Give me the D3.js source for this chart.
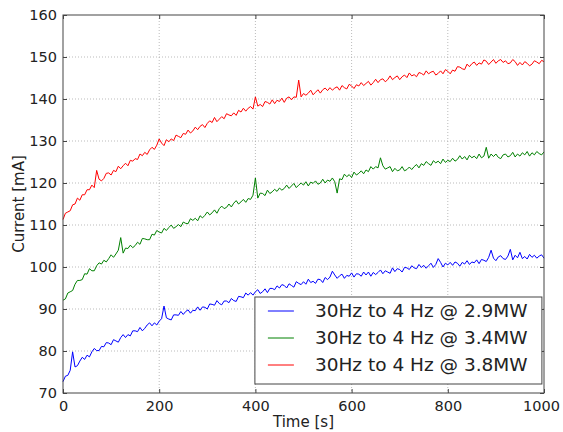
<!DOCTYPE html>
<html>
<head>
<meta charset="utf-8">
<script src="https://cdn.jsdelivr.net/npm/d3@7"></script>
<style>
  body { margin: 0; background: #fff; }
  text { font-family: "DejaVu Sans", sans-serif; fill: #222; }
</style>
</head>
<body>
<div id="chart"></div>
<script>
// time axis, one sample every 5 s
const times = d3.range(0, 1001, 5);

const series29 = [72.7, 74.0, 74.2, 75.4, 79.8, 76.2, 76.5, 77.6, 78.5, 78.0,
  79.0, 78.6, 79.8, 80.6, 80.1, 80.1, 81.1, 81.0, 82.0, 81.9,
  81.5, 82.7, 82.4, 82.1, 83.2, 83.9, 83.2, 83.9, 83.6, 84.8,
  84.8, 84.6, 85.6, 84.8, 85.4, 86.2, 86.7, 86.0, 86.7, 86.2,
  87.1, 87.7, 90.7, 87.9, 87.6, 87.4, 88.6, 88.6, 88.5, 89.4,
  88.7, 89.4, 89.8, 89.0, 89.7, 89.6, 90.5, 89.7, 90.5, 90.4,
  90.0, 91.2, 91.1, 90.9, 92.0, 91.3, 91.0, 91.9, 91.9, 91.5,
  92.5, 92.0, 91.8, 93.0, 92.9, 92.7, 93.8, 93.3, 93.9, 93.3,
  94.1, 94.6, 93.7, 94.1, 94.8, 93.9, 94.9, 94.9, 94.6, 95.5,
  95.0, 95.8, 95.6, 95.0, 96.0, 95.6, 95.2, 96.5, 96.1, 95.8,
  96.5, 95.9, 97.1, 96.3, 96.6, 96.1, 97.1, 97.0, 96.3, 97.5,
  97.0, 97.6, 99.0, 98.1, 97.3, 97.9, 98.3, 97.3, 98.0, 97.8,
  98.6, 97.6, 98.4, 98.3, 97.8, 98.8, 98.1, 98.8, 97.8, 98.7,
  98.2, 98.7, 99.3, 98.4, 99.1, 98.8, 98.5, 99.8, 98.9, 99.6,
  99.4, 98.8, 99.9, 99.8, 99.4, 100.3, 99.8, 99.6, 100.6, 99.9,
  100.4, 99.7, 100.3, 100.9, 99.9, 100.6, 102.0, 101.1, 100.0, 100.9,
  100.5, 101.1, 100.4, 101.2, 100.9, 100.2, 101.1, 100.7, 101.5, 100.6,
  101.2, 101.0, 101.7, 100.8, 101.8, 101.6, 101.3, 102.3, 104.0, 102.1,
  101.5, 102.4, 102.7, 102.0, 101.8, 102.6, 104.2, 101.7, 102.8, 102.2,
  103.5, 102.0, 102.5, 101.9, 103.0, 102.3, 102.8, 102.1, 102.6, 102.9,
  102.1];

const series34 = [92.1, 92.4, 93.8, 94.1, 94.4, 95.9, 96.8, 96.8, 97.0, 98.4,
  98.3, 99.6, 99.1, 99.1, 100.3, 101.0, 100.7, 101.6, 101.2, 102.0,
  102.9, 102.3, 103.1, 104.0, 107.0, 103.3, 104.5, 104.4, 105.2, 104.6,
  105.1, 105.9, 105.4, 106.8, 106.7, 106.5, 106.5, 107.8, 107.6, 108.7,
  108.3, 108.1, 109.2, 108.7, 109.4, 110.0, 109.2, 109.6, 110.1, 109.6,
  110.7, 110.4, 110.3, 111.5, 111.1, 111.6, 111.0, 112.2, 111.7, 112.3,
  113.1, 112.4, 112.9, 113.6, 112.8, 113.9, 114.5, 113.9, 114.2, 115.0,
  114.3, 115.2, 115.8, 115.0, 115.5, 116.1, 115.4, 116.3, 116.1, 117.1,
  121.2, 116.4, 117.6, 117.5, 117.0, 118.3, 117.5, 117.9, 118.5, 118.0,
  118.8, 118.3, 118.7, 119.5, 118.7, 119.3, 119.9, 118.9, 119.5, 120.0,
  119.5, 120.3, 119.3, 120.2, 119.9, 120.5, 119.7, 120.0, 120.9, 120.0,
  120.7, 120.4, 121.2, 120.3, 117.6, 121.0, 120.8, 122.1, 121.5, 122.0,
  121.3, 122.6, 121.9, 122.3, 122.9, 122.2, 123.1, 122.7, 123.9, 123.3,
  123.9, 123.6, 126.0, 124.1, 123.3, 123.6, 123.9, 122.7, 123.5, 122.9,
  123.1, 123.9, 122.9, 123.2, 123.8, 123.2, 123.9, 124.4, 123.6, 124.6,
  124.2, 125.1, 124.6, 124.2, 125.3, 124.8, 125.2, 124.6, 125.7, 124.9,
  125.4, 125.1, 125.9, 125.2, 125.6, 126.5, 125.7, 126.3, 125.5, 126.6,
  126.0, 126.4, 125.8, 126.9, 126.0, 126.4, 128.5, 125.9, 126.9, 126.3,
  126.9, 126.1, 125.8, 126.7, 126.9, 126.2, 126.5, 127.3, 126.2, 126.9,
  126.4, 127.2, 126.7, 127.5, 126.4, 127.2, 126.7, 127.5, 127.0, 126.7,
  127.4];

const series38 = [111.3, 112.8, 113.1, 113.4, 114.8, 115.0, 116.4, 115.9, 117.2, 117.2,
  118.4, 118.4, 119.5, 118.9, 123.0, 120.9, 120.5, 121.1, 122.3, 122.4,
  121.9, 123.0, 122.7, 124.0, 123.4, 124.1, 124.7, 124.1, 125.4, 125.2,
  125.8, 125.6, 126.9, 126.5, 127.3, 126.8, 127.9, 128.5, 128.0, 129.0,
  130.5, 129.5, 128.9, 130.3, 129.8, 130.5, 130.1, 131.4, 131.1, 130.8,
  131.8, 131.6, 132.6, 131.9, 132.4, 133.3, 132.7, 133.5, 133.9, 133.2,
  134.2, 134.8, 134.4, 135.6, 134.6, 135.2, 135.8, 135.3, 136.5, 136.2,
  136.0, 136.7, 136.1, 137.3, 136.9, 137.8, 137.1, 137.8, 138.2, 137.6,
  140.5, 138.3, 138.7, 138.2, 139.4, 139.2, 138.8, 139.8, 138.9, 139.7,
  139.4, 140.2, 139.2, 140.2, 140.5, 139.8, 140.5, 140.4, 144.5, 140.5,
  141.3, 140.9, 141.4, 142.1, 141.0, 141.6, 142.2, 141.4, 142.2, 142.6,
  142.0, 142.7, 142.1, 142.6, 142.9, 142.1, 143.2, 142.7, 142.4, 143.5,
  143.1, 142.5, 143.4, 143.1, 143.9, 143.2, 143.7, 144.2, 143.3, 143.9,
  144.7, 143.9, 144.6, 144.8, 144.1, 144.6, 145.5, 144.6, 145.1, 145.5,
  144.6, 145.3, 145.7, 145.1, 146.2, 145.5, 145.8, 145.3, 146.3, 146.1,
  145.7, 146.7, 146.0, 146.4, 146.6, 145.7, 146.1, 146.7, 146.0, 147.0,
  146.6, 146.0, 146.9, 146.6, 147.7, 147.6, 147.2, 147.0, 148.3, 147.7,
  148.4, 148.8, 148.0, 148.6, 148.3, 149.3, 149.0, 148.2, 148.8, 149.4,
  148.5, 149.1, 149.4, 148.7, 149.1, 148.4, 148.6, 149.4, 148.9, 148.0,
  148.7, 148.1, 148.9, 148.5, 147.9, 148.3, 149.1, 148.8, 148.4, 149.2,
  148.9];

const labels = ["30Hz to 4 Hz @ 2.9MW", "30Hz to 4 Hz @ 3.4MW", "30Hz to 4 Hz @ 3.8MW"];
const colors = ["#0000ff", "#008000", "#ff0000"];
const xTicks = [0, 200, 400, 600, 800, 1000];
const yTicks = [70, 80, 90, 100, 110, 120, 130, 140, 150, 160];

const W = 563, H = 432;
const margin = {top: 15, right: 19, bottom: 39, left: 63};
const width = W - margin.left - margin.right;
const height = H - margin.top - margin.bottom;

const svg = d3.select("#chart").append("svg")
    .attr("width", W)
    .attr("height", H);

const g = svg.append("g")
    .attr("transform", `translate(${margin.left},${margin.top})`);

const x = d3.scaleLinear().domain([0, 1000]).range([0, width]);
const y = d3.scaleLinear().domain([70, 160]).range([height, 0]);

// grid
g.append("g").selectAll("line")
    .data(xTicks.slice(1, -1))
    .join("line")
    .attr("x1", d => x(d)).attr("x2", d => x(d))
    .attr("y1", 0).attr("y2", height)
    .attr("stroke", "#aaa").attr("stroke-width", 0.8)
    .attr("stroke-dasharray", "1,2");
g.append("g").selectAll("line")
    .data(yTicks.slice(1, -1))
    .join("line")
    .attr("y1", d => y(d)).attr("y2", d => y(d))
    .attr("x1", 0).attr("x2", width)
    .attr("stroke", "#aaa").attr("stroke-width", 0.8)
    .attr("stroke-dasharray", "1,2");

// lines
const line = d3.line()
    .x((d, i) => x(times[i]))
    .y(d => y(d));

[series29, series34, series38].forEach((s, i) => {
    g.append("path")
        .datum(s)
        .attr("fill", "none")
        .attr("stroke", colors[i])
        .attr("stroke-width", 1)
        .attr("stroke-linejoin", "round")
        .attr("d", line);
});

// axes (ticks inside, on all four sides)
const xAxis = g.append("g")
    .attr("transform", `translate(0,${height})`)
    .call(d3.axisBottom(x).tickValues(xTicks).tickFormat(d3.format("d"))
        .tickSizeInner(-4).tickSizeOuter(0).tickPadding(8));
const yAxis = g.append("g")
    .call(d3.axisLeft(y).tickValues(yTicks).tickSizeInner(-4).tickSizeOuter(0).tickPadding(6));
g.append("g")
    .call(d3.axisTop(x).tickValues(xTicks).tickSizeInner(-4).tickSizeOuter(0).tickFormat(""));
g.append("g")
    .attr("transform", `translate(${width},0)`)
    .call(d3.axisRight(y).tickValues(yTicks).tickSizeInner(-4).tickSizeOuter(0).tickFormat(""));

svg.selectAll(".domain").remove();
svg.selectAll(".tick line").attr("stroke", "#444");
xAxis.selectAll("text").attr("font-size", 14.5).attr("fill", "#222").attr("font-family", "DejaVu Sans");
yAxis.selectAll("text").attr("font-size", 14.5).attr("fill", "#222").attr("font-family", "DejaVu Sans");
xAxis.selectAll(".tick").filter(d => d === 1000).select("text").attr("dx", -3);

g.append("rect")
    .attr("width", width).attr("height", height)
    .attr("fill", "none").attr("stroke", "#444").attr("stroke-width", 1);

// axis labels
svg.append("text")
    .attr("x", margin.left + width / 2)
    .attr("y", H - 5)
    .attr("text-anchor", "middle")
    .attr("font-size", 15)
    .text("Time [s]");
svg.append("text")
    .attr("transform", `translate(24,${margin.top + height / 2}) rotate(-90)`)
    .attr("text-anchor", "middle")
    .attr("font-size", 15)
    .text("Current [mA]");

// legend
const legend = g.append("g")
    .attr("transform", `translate(${x(400) - 0.5},${y(90) - 12})`);
legend.append("rect")
    .attr("width", 287).attr("height", 87)
    .attr("fill", "#fff").attr("stroke", "#444").attr("stroke-width", 1);
labels.forEach((lab, i) => {
    const ly = 14 + i * 27;
    legend.append("line")
        .attr("x1", 13).attr("x2", 39)
        .attr("y1", ly).attr("y2", ly)
        .attr("stroke", colors[i]).attr("stroke-width", 1);
    legend.append("text")
        .attr("x", 60).attr("y", ly)
        .attr("dy", "0.35em")
        .attr("font-size", 18.5)
        .text(lab);
});
</script>
</body>
</html>
